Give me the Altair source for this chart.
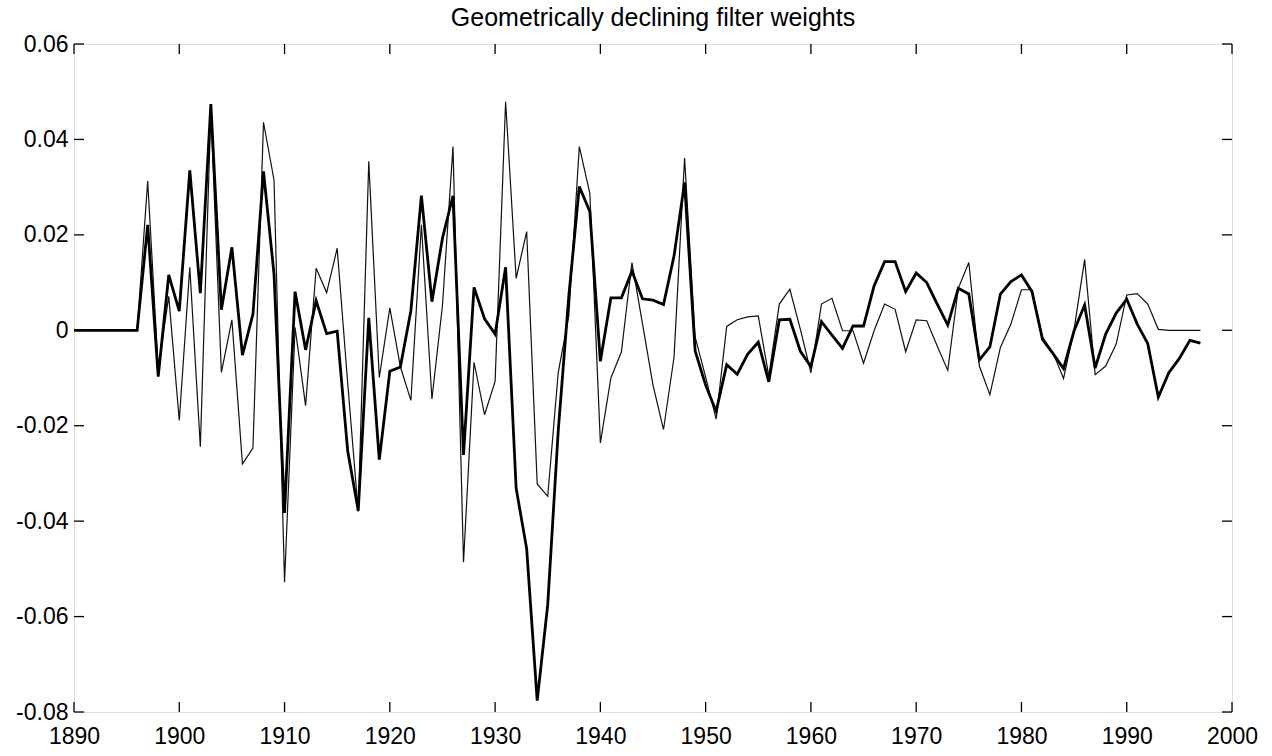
import altair as alt
import pandas as pd

years = list(range(1890, 1998))

thick = [
    0.0, 0.0, 0.0, 0.0, 0.0, 0.0, 0.0,
    0.0221, -0.0097, 0.0116, 0.0040, 0.0335, 0.0078, 0.0474, 0.0043, 0.0174,
    -0.0052, 0.0034, 0.0333, 0.0118, -0.0383, 0.0081, -0.0041, 0.0062, -0.0007,
    -0.0002, -0.0253, -0.0378, 0.0026, -0.0271, -0.0086, -0.0077, 0.0041,
    0.0282, 0.0060, 0.0193, 0.0282, -0.0261, 0.0090, 0.0024, -0.0008, 0.0132,
    -0.0331, -0.0458, -0.0776, -0.0575, -0.0210, 0.0071, 0.0301, 0.0249,
    -0.0065, 0.0068, 0.0068, 0.0124, 0.0066, 0.0063, 0.0054, 0.0156, 0.0310,
    -0.0043, -0.0115, -0.0170, -0.0072, -0.0092, -0.0050, -0.0025, -0.0108,
    0.0022, 0.0023, -0.0044, -0.0076, 0.0018, -0.0010, -0.0038, 0.0009, 0.0009,
    0.0093, 0.0144, 0.0144, 0.0081, 0.0120, 0.0100, 0.0055, 0.0011, 0.0088,
    0.0076, -0.0062, -0.0035, 0.0076, 0.0102, 0.0116, 0.0081, -0.0019, -0.0049,
    -0.0080, -0.0001, 0.0053, -0.0079, -0.0008, 0.0036, 0.0065, 0.0013, -0.0028,
    -0.0140, -0.0089, -0.0059, -0.0021, -0.0027,
]

thin = [
    0.0, 0.0, 0.0, 0.0, 0.0, 0.0, 0.0,
    0.0313, -0.0080, 0.0071, -0.0189, 0.0132, -0.0244, 0.0460, -0.0088, 0.0022,
    -0.0280, -0.0247, 0.0436, 0.0315, -0.0528, 0.0006, -0.0158, 0.0130, 0.0079,
    0.0172, -0.0111, -0.0380, 0.0354, -0.0099, 0.0047, -0.0076, -0.0147,
    0.0221, -0.0144, 0.0052, 0.0385, -0.0486, -0.0067, -0.0177, -0.0107, 0.0479,
    0.0109, 0.0207, -0.0322, -0.0348, -0.0088, 0.0030, 0.0385, 0.0287,
    -0.0236, -0.0100, -0.0045, 0.0142, 0.0014, -0.0115, -0.0208, -0.0056, 0.0361,
    -0.0014, -0.0098, -0.0186, 0.0008, 0.0022, 0.0028, 0.0030, -0.0096,
    0.0055, 0.0086, 0.0002, -0.0089, 0.0055, 0.0067, -0.0001, -0.0001, -0.0069,
    -0.0001, 0.0055, 0.0044, -0.0045, 0.0022, 0.0020, -0.0033, -0.0084, 0.0088,
    0.0142, -0.0075, -0.0135, -0.0036, 0.0013, 0.0085, 0.0085, -0.0015, -0.0047,
    -0.0101, 0.0002, 0.0148, -0.0093, -0.0075, -0.0029, 0.0074, 0.0077, 0.0055,
    0.0002, 0.0, 0.0, 0.0, 0.0,
]

x_ticks = list(range(1890, 2001, 10))
y_ticks = [-0.08, -0.06, -0.04, -0.02, 0.0, 0.02, 0.04, 0.06]
chart_title = "Geometrically declining filter weights"

W, H = 1158, 668
FONT = "Liberation Sans"
TICK = 10

df = pd.DataFrame({"year": years, "thick": thick, "thin": thin})
xt = pd.DataFrame({"t": x_ticks})
yt = pd.DataFrame({"t": y_ticks})
tt = pd.DataFrame({"label": [chart_title]})

xs = alt.Scale(domain=[1890, 2000], nice=False, zero=False)
ys = alt.Scale(domain=[-0.08, 0.06], nice=False, zero=False)

x_axis = alt.Axis(
    values=x_ticks, format="d", ticks=False, domain=False, grid=False,
    labelFontSize=23, labelFont=FONT, labelColor="black", labelPadding=13,
    labelFlush=False, title=None,
)
y_axis = alt.Axis(
    values=y_ticks,
    labelExpr="datum.value == 0 ? '0' : (datum.value < 0 ? '-' : '') + format(abs(datum.value), '.2f')",
    ticks=False, domain=False, grid=False,
    labelFontSize=23, labelFont=FONT, labelColor="black", labelPadding=6,
    labelFlush=False, title=None,
)

base = alt.Chart(df)
thin_line = base.mark_line(color="#111111", strokeWidth=1.2).encode(
    x=alt.X("year:Q", scale=xs, axis=x_axis),
    y=alt.Y("thin:Q", scale=ys, axis=y_axis),
)
thick_line = base.mark_line(color="black", strokeWidth=2.8).encode(
    x=alt.X("year:Q", scale=xs),
    y=alt.Y("thick:Q", scale=ys),
)

tick_bottom = alt.Chart(xt).mark_rule(color="black", strokeWidth=1.3).encode(
    x=alt.X("t:Q", scale=xs), y=alt.value(H), y2=alt.value(H - TICK)
)
tick_top = alt.Chart(xt).mark_rule(color="black", strokeWidth=1.3).encode(
    x=alt.X("t:Q", scale=xs), y=alt.value(0), y2=alt.value(TICK)
)
tick_left = alt.Chart(yt).mark_rule(color="black", strokeWidth=1.3).encode(
    y=alt.Y("t:Q", scale=ys), x=alt.value(0), x2=alt.value(TICK)
)
tick_right = alt.Chart(yt).mark_rule(color="black", strokeWidth=1.3).encode(
    y=alt.Y("t:Q", scale=ys), x=alt.value(W), x2=alt.value(W - TICK)
)

title_text = alt.Chart(tt).mark_text(
    font=FONT, fontSize=25, color="black", align="center", baseline="alphabetic"
).encode(
    text="label:N", x=alt.value(W / 2), y=alt.value(-18)
)

chart = alt.layer(
    thin_line, thick_line, tick_bottom, tick_top, tick_left, tick_right, title_text
).properties(
    width=W,
    height=H,
    autosize=alt.AutoSizeParams(type="none"),
    padding={"left": 74, "top": 44, "right": 40, "bottom": 44},
).configure_view(
    stroke="black", strokeWidth=1.6
).configure(background="white")

chart.save("out.html", embed_options={"renderer": "svg", "actions": False})
